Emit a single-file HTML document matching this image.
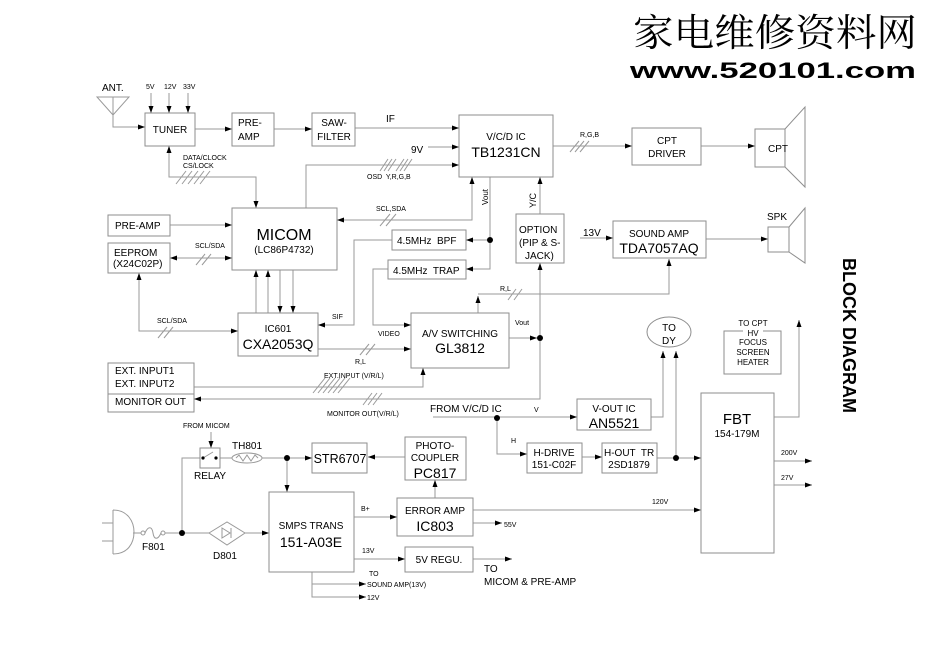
<!DOCTYPE html>
<html><head><meta charset="utf-8"><style>
html,body{margin:0;padding:0;background:#fff;}
svg{display:block;}
text{font-family:"Liberation Sans",Arial,sans-serif;fill:#000;}
.s{font-size:7px}
.m{font-size:10px}
.l{font-size:14px}
.c{text-anchor:middle}
</style></head><body>
<svg width="950" height="672" viewBox="0 0 950 672" xmlns="http://www.w3.org/2000/svg">
<defs>
<marker id="a" markerWidth="8" markerHeight="6" refX="7" refY="3" orient="auto-start-reverse" markerUnits="userSpaceOnUse"><path d="M0,0.5 L7,3 L0,5.5 z" fill="#000"/></marker>
</defs>
<rect width="950" height="672" fill="#fff"/>

<!-- watermark -->
<text x="633" y="46" font-family="'Noto Serif CJK SC','WenQuanYi Zen Hei',serif" style="font-family:'Noto Serif CJK SC','WenQuanYi Zen Hei',serif;font-size:38px" textLength="284" lengthAdjust="spacingAndGlyphs">家电维修资料网</text>
<text x="630" y="78" style="font-size:22px;font-weight:bold" textLength="286" lengthAdjust="spacingAndGlyphs">www.520101.com</text>

<!-- connectors -->
<g fill="none" stroke="#9a9a9a" stroke-width="1">
<path d="M97,97 H129 L113,115 Z"/>
<path d="M113,97 V127 H145" marker-end="url(#a)"/>
<path d="M151,93 V113" marker-end="url(#a)"/>
<path d="M169,93 V113" marker-end="url(#a)"/>
<path d="M188,93 V113" marker-end="url(#a)"/>
<path d="M195,129 H232" marker-end="url(#a)"/>
<path d="M274,129 H312" marker-end="url(#a)"/>
<path d="M355,128 H459" marker-end="url(#a)"/>
<path d="M428,147 H459" marker-end="url(#a)"/>
<path d="M306,208 V165 H459" marker-end="url(#a)"/>
<path d="M169,146 V177 H256 V208" marker-start="url(#a)" marker-end="url(#a)"/>
<path d="M170,225 H232" marker-end="url(#a)"/>
<path d="M170,258 H232" marker-start="url(#a)" marker-end="url(#a)"/>
<path d="M472,177 V220 H337" marker-start="url(#a)" marker-end="url(#a)"/>
<path d="M490,177 V269 H466" marker-end="url(#a)"/>
<path d="M490,240 H466" marker-end="url(#a)"/>
<path d="M392,240 H354 V325 H318" marker-end="url(#a)"/>
<path d="M388,269 H373 V325 H411" marker-end="url(#a)"/>
<path d="M553,146 H632" marker-end="url(#a)"/>
<path d="M701,146 H755" marker-end="url(#a)"/>
<path d="M540,214 V177" marker-end="url(#a)"/>
<path d="M194,399 H540 V263" marker-start="url(#a)" marker-end="url(#a)"/>
<path d="M580,238 H613" marker-end="url(#a)"/>
<path d="M706,239 H768" marker-end="url(#a)"/>
<path d="M478,313 V296" marker-end="url(#a)"/>
<path d="M478,294 H669 V259" marker-end="url(#a)"/>
<path d="M509,338 H537" marker-end="url(#a)"/>
<path d="M256,313 V270" marker-end="url(#a)"/>
<path d="M268,313 V270" marker-end="url(#a)"/>
<path d="M280,270 V313" marker-end="url(#a)"/>
<path d="M293,270 V313" marker-end="url(#a)"/>
<path d="M318,349 H411" marker-end="url(#a)"/>
<path d="M139,273 V331 H238" marker-start="url(#a)" marker-end="url(#a)"/>
<path d="M194,387 H423 V368" marker-end="url(#a)"/>
<path d="M433,417 H577" marker-end="url(#a)"/>
<path d="M651,417 H663 V351" marker-end="url(#a)"/>
<path d="M676,458 V351" marker-end="url(#a)"/>
<path d="M497,417 V454 H527" marker-end="url(#a)"/>
<path d="M582,457 H602" marker-end="url(#a)"/>
<path d="M657,458 H701" marker-end="url(#a)"/>
<path d="M774,417 H799 V320" marker-end="url(#a)"/>
<path d="M774,461 H812" marker-end="url(#a)"/>
<path d="M774,485 H812" marker-end="url(#a)"/>
<path d="M473,510 H701" marker-end="url(#a)"/>
<path d="M473,523 H502" marker-end="url(#a)"/>
<path d="M435,498 V480" marker-end="url(#a)"/>
<path d="M405,457 H368" marker-end="url(#a)"/>
<path d="M262,458 H312" marker-end="url(#a)"/>
<path d="M287,458 V492" marker-end="url(#a)"/>
<path d="M354,517 H397" marker-end="url(#a)"/>
<path d="M354,559 H405" marker-end="url(#a)"/>
<path d="M473,559 H512" marker-end="url(#a)"/>
<path d="M312,572 V597 H366" marker-end="url(#a)"/>
<path d="M312,584 H366" marker-end="url(#a)"/>
<path d="M211,432 V448" marker-end="url(#a)"/>
<path d="M220,458 H232"/>
<path d="M200,458 H182 V533"/>
<path d="M133,533 H141"/>
<path d="M165,533 H209"/>
<path d="M245,533 H269" marker-end="url(#a)"/>
<!-- plug -->
<path d="M113,510 V554 M113,510 C128,510 134,522 134,532 C134,543 128,554 113,554 M102,523 H113 M102,541 H113"/>
<!-- fuse -->
<circle cx="143" cy="533" r="2"/>
<circle cx="163" cy="533" r="2"/>
<path d="M145,533 C148,526 152,526 153,533 C154,540 158,540 161,533"/>
<!-- diode -->
<path d="M209,533 L227,522 L245,533 L227,545 Z"/>
<path d="M222,528 V538 L230,533 Z M231,528 V538"/>
<!-- thermistor -->
<ellipse cx="247" cy="458" rx="15" ry="5"/>
<path d="M236,458 l3,-3 l4,6 l4,-6 l4,6 l4,-6 l3,3"/>
<!-- relay switch -->
<path d="M203,458 L213,452"/>

<!-- hatches -->
<path d="M176,184 l10,-13 M182,184 l10,-13 M188,184 l10,-13 M194,184 l10,-13 M200,184 l10,-13"/>
<path d="M380,171 l8,-12 M384,171 l8,-12 M388,171 l8,-12 M396,171 l8,-12 M400,171 l8,-12 M404,171 l8,-12"/>
<path d="M196,265 l9,-11 M202,265 l9,-11"/>
<path d="M380,226 l10,-12 M386,226 l10,-12"/>
<path d="M570,152 l9,-11 M575,152 l9,-11 M580,152 l9,-11"/>
<path d="M508,300 l8,-11 M514,300 l8,-11"/>
<path d="M360,355 l9,-11 M366,355 l9,-11"/>
<path d="M158,338 l9,-11 M164,338 l9,-11"/>
<path d="M313,393 l12,-15 M318,393 l12,-15 M323,393 l12,-15 M328,393 l12,-15 M333,393 l12,-15 M338,393 l12,-15"/>
<path d="M363,405 l9,-12 M368,405 l9,-12 M373,405 l9,-12"/>
</g>

<!-- boxes -->
<g fill="none" stroke="#8e8e8e" stroke-width="1">
<rect x="145" y="113" width="50" height="33"/>
<rect x="232" y="113" width="42" height="33"/>
<rect x="312" y="113" width="43" height="33"/>
<rect x="459" y="115" width="94" height="62"/>
<rect x="632" y="128" width="69" height="37"/>
<rect x="755" y="129" width="30" height="38"/>
<path d="M785,129 L805,107 V187 L785,167"/>
<rect x="232" y="208" width="105" height="62"/>
<rect x="108" y="215" width="62" height="21"/>
<rect x="108" y="243" width="62" height="30"/>
<rect x="392" y="230" width="74" height="20"/>
<rect x="388" y="260" width="78" height="19"/>
<rect x="516" y="214" width="48" height="49"/>
<rect x="613" y="221" width="93" height="37"/>
<rect x="768" y="227" width="21" height="25"/>
<path d="M789,227 L805,208 V263 L789,252"/>
<rect x="238" y="313" width="80" height="43"/>
<rect x="411" y="313" width="98" height="55"/>
<rect x="108" y="363" width="86" height="49"/>
<path d="M108,394 H194"/>
<rect x="577" y="399" width="74" height="31"/>
<ellipse cx="669" cy="332" rx="22" ry="15"/>
<rect x="724" y="331" width="57" height="43"/>
<rect x="701" y="393" width="73" height="160"/>
<rect x="527" y="443" width="55" height="30"/>
<rect x="602" y="443" width="55" height="30"/>
<rect x="312" y="443" width="55" height="30"/>
<rect x="405" y="437" width="61" height="43"/>
<rect x="397" y="498" width="76" height="38"/>
<rect x="269" y="492" width="85" height="80"/>
<rect x="405" y="547" width="68" height="25"/>
<rect x="200" y="448" width="20" height="20"/>
</g>
<rect x="743" y="328" width="20" height="8" fill="#fff"/>

<!-- dots -->
<g fill="#000">
<circle cx="490" cy="240" r="3"/>
<circle cx="540" cy="338" r="3"/>
<circle cx="497" cy="418" r="3"/>
<circle cx="676" cy="458" r="3"/>
<circle cx="287" cy="458" r="3"/>
<circle cx="182" cy="533" r="3"/>
<circle cx="203" cy="458" r="1.6"/>
<circle cx="216" cy="458" r="1.6"/>
</g>

<!-- texts -->
<text class="m" x="102" y="91">ANT.</text>
<text class="s" x="146" y="89">5V</text>
<text class="s" x="164" y="89">12V</text>
<text class="s" x="183" y="89">33V</text>
<text class="m c" x="170" y="133">TUNER</text>
<text class="m" x="238" y="126">PRE-</text>
<text class="m" x="238" y="140">AMP</text>
<text class="m c" x="334" y="126">SAW-</text>
<text class="m c" x="334" y="140">FILTER</text>
<text class="m" x="386" y="122">IF</text>
<text class="m" x="411" y="153">9V</text>
<text class="s" x="367" y="179" xml:space="preserve">OSD  Y,R,G,B</text>
<text class="s" x="183" y="160">DATA/CLOCK</text>
<text class="s" x="183" y="168">CS/LOCK</text>
<text class="m c" x="506" y="140">V/C/D IC</text>
<text class="l c" x="506" y="157">TB1231CN</text>
<text class="s" x="580" y="137">R,G,B</text>
<text class="m c" x="667" y="144">CPT</text>
<text class="m c" x="667" y="157">DRIVER</text>
<text class="m" x="768" y="152">CPT</text>
<text class="c" x="284" y="240" style="font-size:16px">MICOM</text>
<text class="m c" x="284" y="253">(LC86P4732)</text>
<text class="m" x="115" y="229">PRE-AMP</text>
<text class="m" x="114" y="256">EEPROM</text>
<text class="m" x="113" y="267">(X24C02P)</text>
<text class="s" x="195" y="248">SCL/SDA</text>
<text class="s" x="376" y="211">SCL,SDA</text>
<text class="m" x="397" y="244" xml:space="preserve">4.5MHz  BPF</text>
<text class="m" x="393" y="274" xml:space="preserve">4.5MHz  TRAP</text>
<text x="488" y="205" transform="rotate(-90 488 205)" style="font-size:8px">Vout</text>
<text x="536" y="208" transform="rotate(-90 536 208)" style="font-size:9px">Y/C</text>
<text class="m" x="519" y="233">OPTION</text>
<text class="m" x="519" y="246">(PIP &amp; S-</text>
<text class="m" x="525" y="259">JACK)</text>
<text class="m" x="583" y="236">13V</text>
<text class="m c" x="659" y="237">SOUND AMP</text>
<text class="l c" x="659" y="253">TDA7057AQ</text>
<text class="m" x="767" y="220">SPK</text>
<text class="s" x="500" y="291">R,L</text>
<text class="s" x="332" y="319">SIF</text>
<text class="s" x="378" y="336">VIDEO</text>
<text class="m c" x="278" y="332">IC601</text>
<text class="l c" x="278" y="349">CXA2053Q</text>
<text class="m c" x="460" y="337">A/V SWITCHING</text>
<text class="l c" x="460" y="353">GL3812</text>
<text class="s" x="515" y="325">Vout</text>
<text class="s" x="355" y="364">R,L</text>
<text class="m" x="115" y="374">EXT. INPUT1</text>
<text class="m" x="115" y="387">EXT. INPUT2</text>
<text class="m" x="115" y="405">MONITOR OUT</text>
<text class="s" x="324" y="378">EXT.INPUT (V/R/L)</text>
<text class="s" x="327" y="416">MONITOR OUT(V/R/L)</text>
<text class="m" x="430" y="412">FROM V/C/D IC</text>
<text class="s" x="534" y="412">V</text>
<text class="s" x="157" y="323">SCL/SDA</text>
<text class="m c" x="669" y="331">TO</text>
<text class="m c" x="669" y="344">DY</text>
<text class="c" x="753" y="326" style="font-size:8px">TO CPT</text>
<text class="c" x="753" y="336" style="font-size:8px">HV</text>
<text class="c" x="753" y="345" style="font-size:8px">FOCUS</text>
<text class="c" x="753" y="355" style="font-size:8px">SCREEN</text>
<text class="c" x="753" y="365" style="font-size:8px">HEATER</text>
<text class="m c" x="614" y="412">V-OUT IC</text>
<text class="l c" x="614" y="428">AN5521</text>
<text class="c" x="737" y="424" style="font-size:15px">FBT</text>
<text class="m c" x="737" y="437">154-179M</text>
<text class="s" x="511" y="443">H</text>
<text class="m c" x="554" y="456">H-DRIVE</text>
<text class="m c" x="554" y="468">151-C02F</text>
<text class="m" x="604" y="456" xml:space="preserve">H-OUT  TR</text>
<text class="m c" x="629" y="468">2SD1879</text>
<text class="s" x="781" y="455">200V</text>
<text class="s" x="781" y="480">27V</text>
<text class="s" x="652" y="504">120V</text>
<text class="s" x="504" y="527">55V</text>
<text class="m c" x="435" y="514">ERROR AMP</text>
<text class="l c" x="435" y="531">IC803</text>
<text class="m c" x="435" y="449">PHOTO-</text>
<text class="m c" x="435" y="461">COUPLER</text>
<text class="l c" x="435" y="478">PC817</text>
<text class="c" x="340" y="463" style="font-size:12.5px">STR6707</text>
<text class="m c" x="311" y="529">SMPS TRANS</text>
<text class="l c" x="311" y="547">151-A03E</text>
<text class="s" x="361" y="511">B+</text>
<text class="s" x="362" y="553">13V</text>
<text class="m c" x="439" y="563">5V REGU.</text>
<text class="m" x="484" y="572">TO</text>
<text class="m" x="484" y="585">MICOM &amp; PRE-AMP</text>
<text class="s" x="369" y="576">TO</text>
<text class="s" x="367" y="587">SOUND AMP(13V)</text>
<text class="s" x="367" y="600">12V</text>
<text class="s" x="183" y="428">FROM MICOM</text>
<text class="m" x="232" y="449">TH801</text>
<text class="m" x="194" y="479">RELAY</text>
<text class="m" x="142" y="550">F801</text>
<text class="m" x="213" y="559">D801</text>
<text x="0" y="0" transform="translate(843,258) rotate(90)" style="font-size:18px;font-weight:bold" textLength="155" lengthAdjust="spacingAndGlyphs">BLOCK DIAGRAM</text>
</svg>
</body></html>
